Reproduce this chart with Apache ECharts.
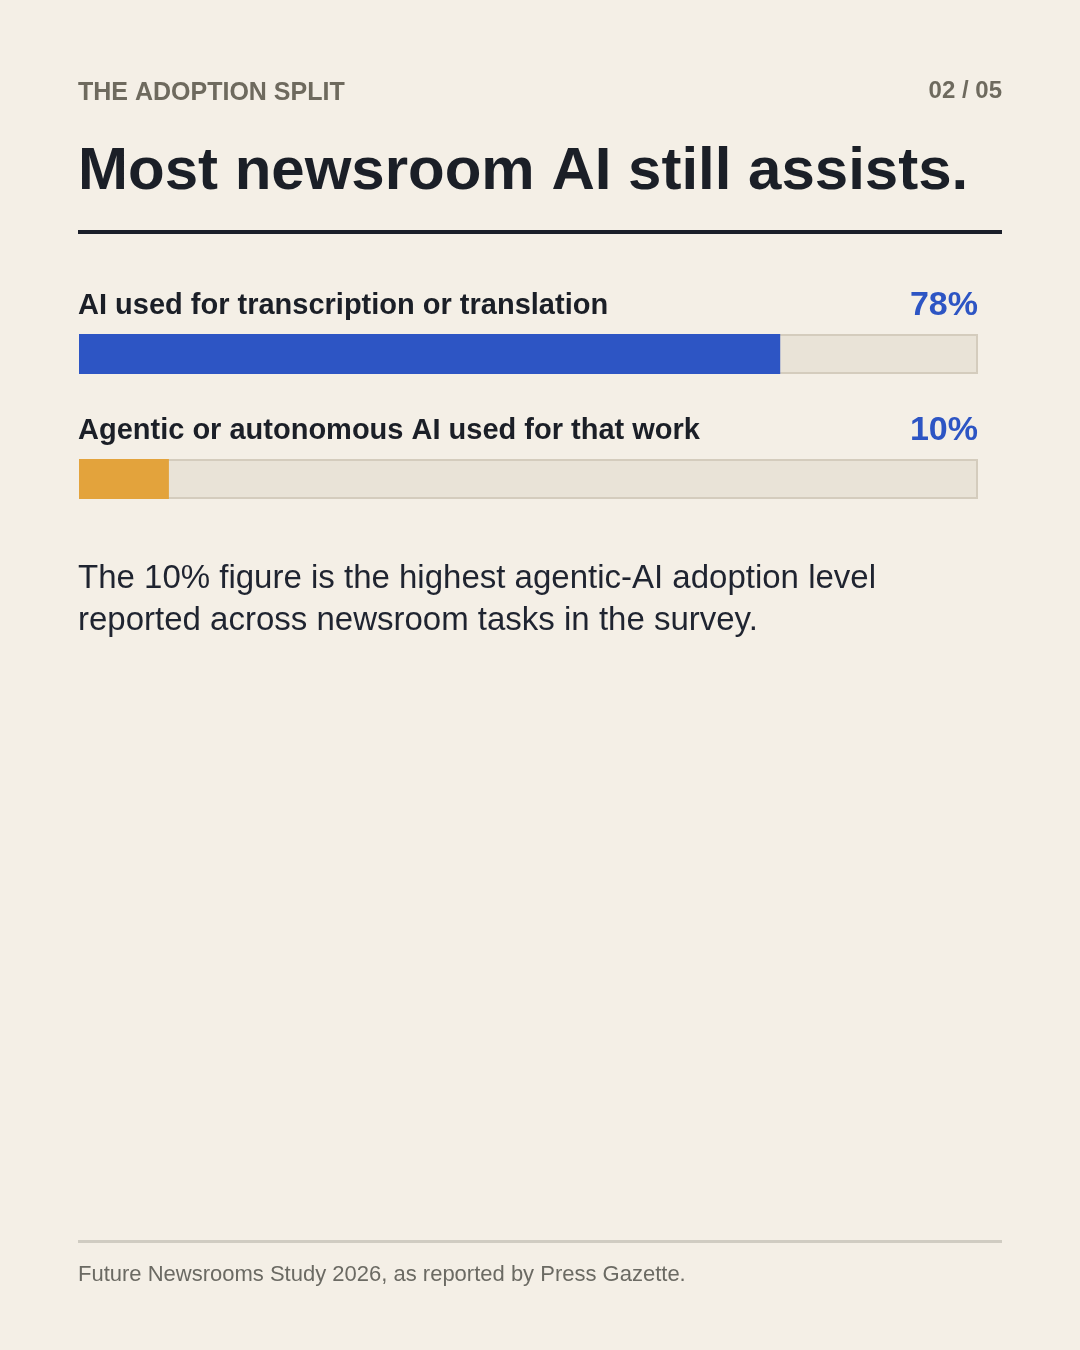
<!DOCTYPE html>
<html>
<head>
<meta charset="utf-8">
<script src="https://cdn.jsdelivr.net/npm/echarts@6/dist/echarts.min.js"></script>
<style>
  html, body { margin: 0; padding: 0; background: #f4efe6; }
  #chart { width: 1080px; height: 1350px; }
</style>
</head>
<body>
<div id="chart"></div>
<script>
var categories = ['AI used for transcription or translation', 'Agentic or autonomous AI used for that work'];
var values = [78, 10];
var barColors = ['#2d55c4', '#e3a33c'];
var trackValues = [100, 100];

var font = '"Liberation Sans", Arial, Helvetica, sans-serif';
var chart = echarts.init(document.getElementById('chart'));

var option = {
  backgroundColor: '#f4efe6',
  animation: false,
  grid: { left: 79, right: 102, top: 291.5, height: 250 },
  xAxis: { type: 'value', min: 0, max: 100, show: false },
  yAxis: {
    type: 'category',
    data: categories,
    inverse: true,
    show: false
  },
  series: [
    {
      // grey track behind every bar, carries the row label and the value
      type: 'bar',
      data: trackValues,
      barWidth: 40,
      barGap: '-100%',
      silent: true,
      z: 1,
      itemStyle: { color: '#e9e3d7', borderColor: '#d4ccbd', borderWidth: 2 },
      label: {
        show: true,
        position: [-1, -28],
        verticalAlign: 'middle',
        align: 'left',
        formatter: function (p) {
          return '{a|' + categories[p.dataIndex] + '}{b|' + values[p.dataIndex] + '%}';
        },
        rich: {
          a: { width: 780, fontFamily: font, fontSize: 29, fontWeight: 'bold', color: '#1b1f27', align: 'left', verticalAlign: 'middle' },
          b: { width: 120, fontFamily: font, fontSize: 34, fontWeight: 'bold', color: '#2d55c4', align: 'right', verticalAlign: 'middle' }
        }
      }
    },
    {
      type: 'bar',
      data: values.map(function (v, i) { return { value: v, itemStyle: { color: barColors[i] } }; }),
      barWidth: 40,
      barGap: '-100%',
      silent: true,
      z: 2
    }
  ],
  graphic: [
    { type: 'text', left: 78, top: 81, style: { text: 'THE ADOPTION SPLIT', font: 'bold 25px ' + font, fill: '#6e6a5e' } },
    { type: 'text', right: 78, top: 79, style: { text: '02 / 05', font: 'bold 24px ' + font, fill: '#6e6a5e', textAlign: 'right' } },
    { type: 'text', left: 78, top: 142, style: { text: 'Most newsroom AI still assists.', font: 'bold 60px ' + font, fill: '#1b1f27' } },
    { type: 'rect', shape: { x: 78, y: 230, width: 924, height: 4 }, style: { fill: '#1b1f2a' } },
    { type: 'text', left: 78, top: 558, style: {
        text: 'The 10% figure is the highest agentic-AI adoption level\nreported across newsroom tasks in the survey.',
        font: '33px ' + font, lineHeight: 42, fill: '#1f2430' } },
    { type: 'rect', shape: { x: 78, y: 1240, width: 924, height: 3 }, style: { fill: '#d0ccc2' } },
    { type: 'text', left: 78, top: 1264, style: { text: 'Future Newsrooms Study 2026, as reported by Press Gazette.', font: '22px ' + font, fill: '#6b6a63' } }
  ]
};

chart.setOption(option);
</script>
</body>
</html>
